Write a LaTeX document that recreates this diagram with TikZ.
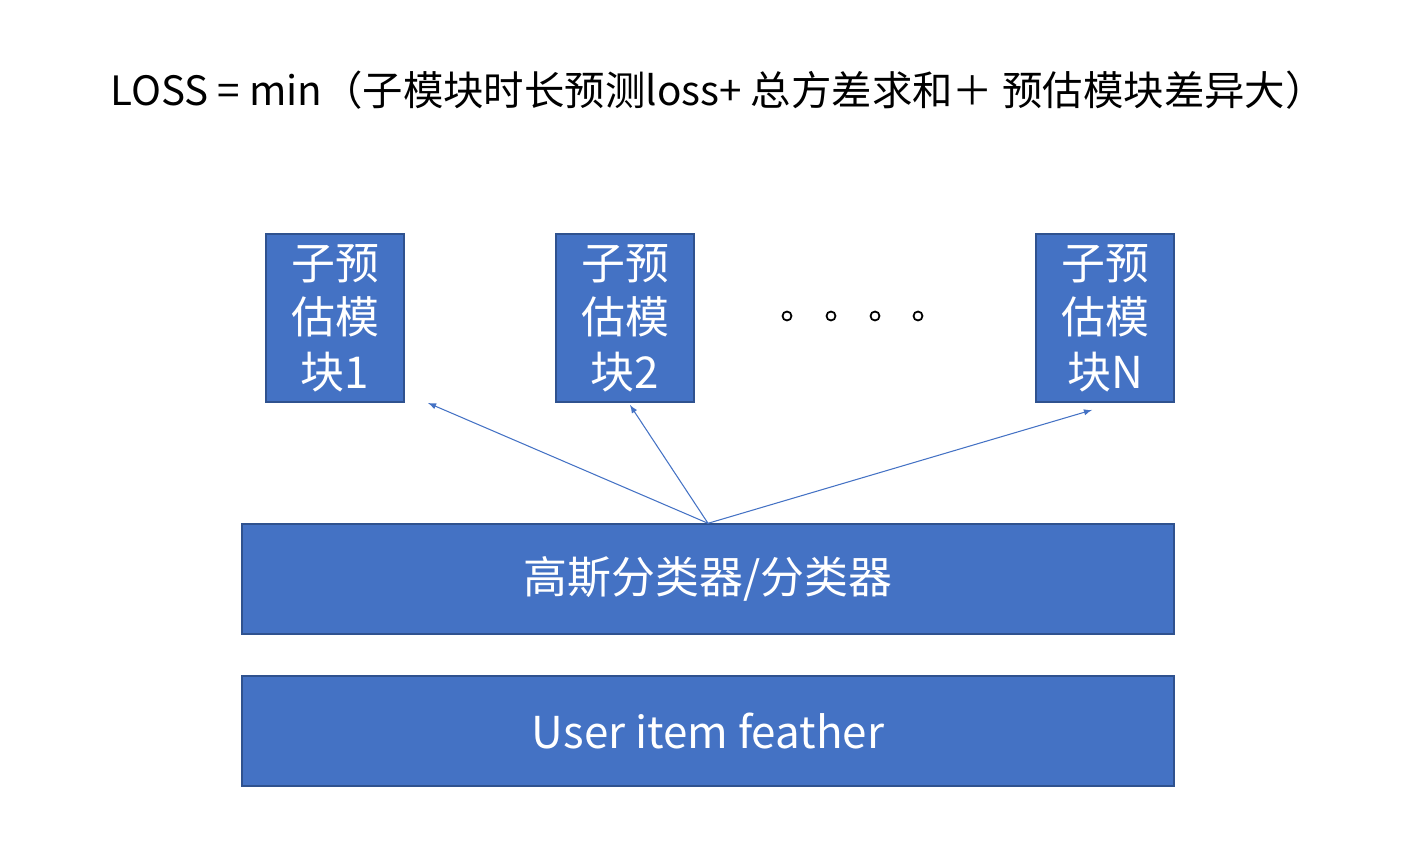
\documentclass[tikz,border=0pt]{standalone}
\usepackage{fontspec}
\setmainfont{Noto Sans CJK SC}
\usetikzlibrary{positioning}
\definecolor{boxblue}{HTML}{4472C4}
\definecolor{edgeblue}{HTML}{2F528F}
\begin{document}
\begin{tikzpicture}[x=0.02cm,y=-0.02cm,
  blk/.style={draw=edgeblue,fill=boxblue,text=white,line width=0.8pt,inner sep=0pt,align=center,font=\fontsize{25}{31}\selectfont},
  sub/.style={blk,minimum width=2.76cm,minimum height=3.36cm},
  wide/.style={blk,minimum width=18.64cm,minimum height=2.2cm},
  dot/.style={draw=black,circle,line width=1pt,minimum size=0.18cm,inner sep=0pt},
  link/.style={draw=boxblue,line width=0.6pt,-latex}]
\useasboundingbox (0,0) rectangle (1428,864);

\node[font=\fontsize{23}{28}\selectfont] (title) at (718,90) {LOSS = min（子模块时长预测loss+ 总方差求和＋ 预估模块差异大）};

\node[sub] (m1) at (335,318) {子预\\估模\\块1};
\node[sub] (m2) at (625,318) {子预\\估模\\块2};
\node[sub] (mN) at (1105,318) {子预\\估模\\块N};
\foreach \x [count=\i] in {787,831,875,918}
  \node[dot] (d\i) at (\x,316) {};

\node[wide] (gauss) at (708,579) {高斯分类器/分类器};
\node[wide] (feat) at (708,731) {User item feather};

\coordinate (t1) at (428,403);
\coordinate (t2) at (630,405);
\coordinate (tN) at (1092,410);
\foreach \t in {t1,t2,tN}
  \draw[link] (gauss.north) -- (\t);
\end{tikzpicture}
\end{document}
